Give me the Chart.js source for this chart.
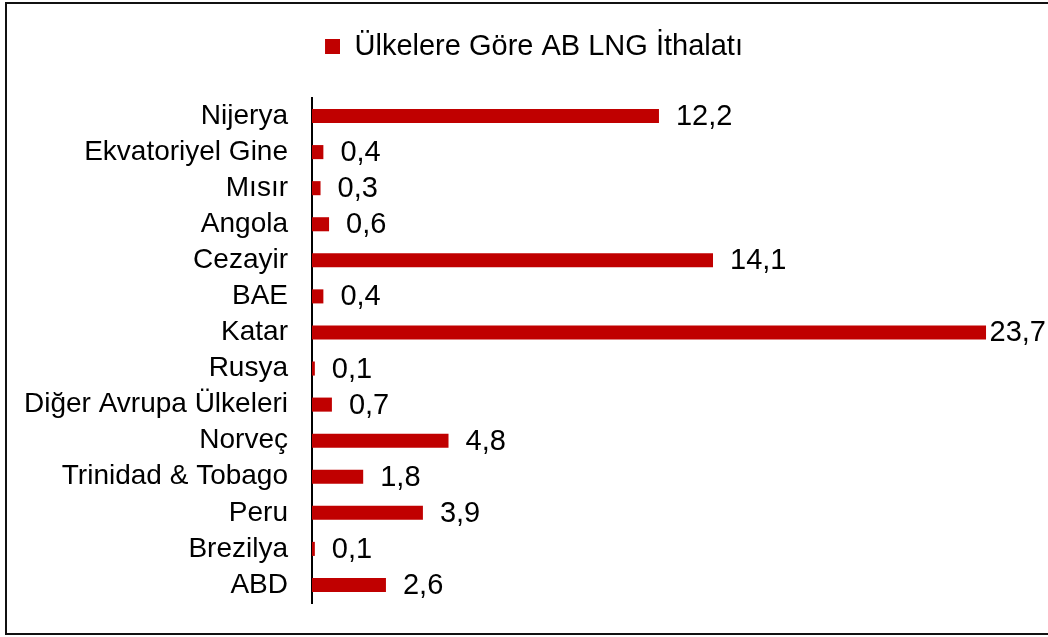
<!DOCTYPE html>
<html>
<head>
<meta charset="utf-8">
<script src="https://cdn.jsdelivr.net/npm/chart.js@4.4.1/dist/chart.umd.min.js"></script>
<style>
  html, body { margin: 0; padding: 0; background: #fff; }
  #wrap { position: relative; width: 1048px; height: 637px; overflow: hidden; }
  #frame { position: absolute; left: 5px; top: 2px; width: 1100px; height: 629px;
           border: 2px solid #111; border-right: none; box-sizing: content-box; }
  canvas { position: absolute; left: 0; top: 0; }
</style>
</head>
<body>
<div id="wrap">
  <div id="frame"></div>
  <canvas id="theGraph" width="1048" height="637"></canvas>
</div>
<script>
// data (billion m3)
var countries = ["Nijerya", "Ekvatoriyel Gine", "Mısır", "Angola", "Cezayir", "BAE", "Katar",
  "Rusya", "Diğer Avrupa Ülkeleri", "Norveç", "Trinidad & Tobago", "Peru", "Brezilya", "ABD"];
var imports = [12.2, 0.4, 0.3, 0.6, 14.1, 0.4, 23.7, 0.1, 0.7, 4.8, 1.8, 3.9, 0.1, 2.6];
var seriesName = "Ülkelere Göre AB LNG İthalatı";

var FONT = "'Liberation Sans', Arial, sans-serif";

// value labels next to the bars, comma decimals like the original
var barLabels = {
  id: 'barLabels',
  afterDatasetsDraw: function(chart) {
    var ctx = chart.ctx;
    var meta = chart.getDatasetMeta(0);
    ctx.save();
    ctx.font = "29px " + FONT;
    ctx.fillStyle = "#000";
    ctx.textBaseline = "middle";
    meta.data.forEach(function(bar, i) {
      var txt = imports[i].toFixed(1).replace('.', ',');
      var w = ctx.measureText(txt).width;
      var x = Math.min(bar.x + 17, chart.width - 2 - w);
      ctx.fillText(txt, x, bar.y + 1);
    });
    ctx.restore();
  }
};

// extra room under the legend, and legend nudged right like the original
var legendTweak = {
  id: 'legendTweak',
  beforeInit: function(chart) {
    var lg = chart.legend;
    var fit = lg.fit;
    lg.fit = function() {
      fit.call(this);
      this.height += 27;
    };
    var draw = lg.draw;
    lg.draw = function() {
      var c = this.ctx;
      c.save();
      c.translate(15, 0);
      draw.apply(this, arguments);
      c.restore();
    };
  }
};

var ctx = document.getElementById('theGraph').getContext('2d');
var chart = new Chart(ctx, {
  type: 'bar',
  data: {
    labels: countries,
    datasets: [{
      label: seriesName,
      data: imports,
      backgroundColor: '#C00000',
      borderWidth: 0,
      barPercentage: 0.39,
      categoryPercentage: 1.0
    }]
  },
  options: {
    indexAxis: 'y',
    responsive: false,
    animation: false,
    layout: { padding: { left: 15, right: 25, top: 24, bottom: 34 } },
    plugins: {
      legend: {
        display: true,
        position: 'top',
        labels: {
          boxWidth: 15,
          boxHeight: 15,
          color: '#000',
          font: { family: FONT, size: 29 },
          padding: 8
        }
      },
      tooltip: { enabled: false }
    },
    scales: {
      x: {
        display: false,
        min: 0,
        max: 25
      },
      y: {
        afterFit: function(scale) {
          scale.width = 297;
          scale.paddingTop = 0;
          scale.paddingBottom = 0;
        },
        grid: { display: false, drawTicks: false },
        border: { display: true, color: '#000', width: 2 },
        ticks: {
          color: '#000',
          padding: 24,
          autoSkip: false,
          font: { family: FONT, size: 28 }
        }
      }
    }
  },
  plugins: [barLabels, legendTweak]
});
</script>
</body>
</html>
